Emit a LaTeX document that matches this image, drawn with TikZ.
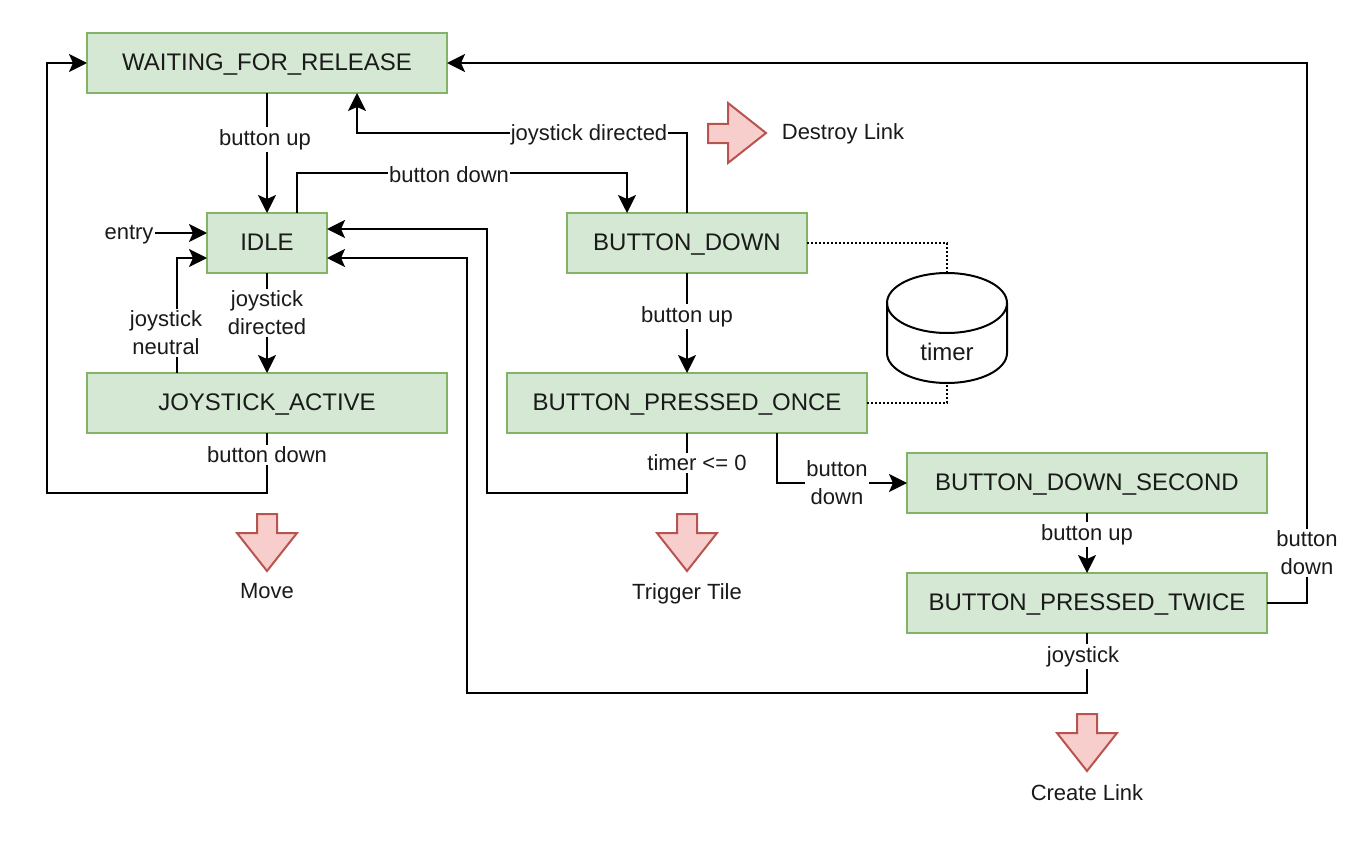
\documentclass[tikz,border=0pt]{standalone}
\usepackage{fontspec}
\setmainfont{Liberation Sans}
\usetikzlibrary{arrows.meta}
\definecolor{gfill}{HTML}{D5E8D4}
\definecolor{gline}{HTML}{82B366}
\definecolor{rfill}{HTML}{F8CECC}
\definecolor{rline}{HTML}{B85450}
\definecolor{ink}{HTML}{1A1A1A}
\tikzset{
  x=1pt,y=-1pt,
  state/.style={draw=gline,fill=gfill,line width=2pt,minimum height=60pt,inner sep=0pt,outer sep=0pt,text=ink,text height=17.5pt,text depth=2.5pt,font=\fontsize{24}{28}\selectfont},
  wide/.style={state,minimum width=360pt},
  mid/.style={state,minimum width=240pt},
  small/.style={state,minimum width=120pt},
  conn/.style={draw=black,line width=2pt,-{Stealth[length=18pt,width=18pt,inset=4pt]}},
  dots/.style={draw=black,line width=2pt,dash pattern=on 2pt off 2pt},
  lbl/.style={fill=white,inner xsep=1pt,inner ysep=2pt,text=ink,align=center,font=\fontsize{22}{28}\selectfont},
  plain/.style={text=ink,inner sep=0pt,align=center,font=\fontsize{22}{26}\selectfont},
  blockarrow/.style={draw=rline,fill=rfill,line width=2pt,line join=miter},
}
\begin{document}
\begin{tikzpicture}
\useasboundingbox (0,0) rectangle (1372,840);
\fill[white] (0,0) rectangle (1372,840);
% states
\node[wide]  (wfr)  at (267,63)  {WAITING\_FOR\_RELEASE};
\node[small] (idle) at (267,243) {IDLE};
\node[mid]   (bd)   at (687,243) {BUTTON\_DOWN};
\node[wide]  (ja)   at (267,403) {JOYSTICK\_ACTIVE};
\node[wide]  (bpo)  at (687,403) {BUTTON\_PRESSED\_ONCE};
\node[wide]  (bds)  at (1087,483) {BUTTON\_DOWN\_SECOND};
\node[wide]  (bpt)  at (1087,603) {BUTTON\_PRESSED\_TWICE};
% timer
\coordinate (ttop) at (947,273);
\coordinate (tbot) at (947,383);
\draw[black,line width=2pt,fill=white]
  (887,303) arc[start angle=180,end angle=0,x radius=60,y radius=-30]
  -- (1007,353) arc[start angle=0,end angle=-180,x radius=60,y radius=-30] -- cycle;
\draw[black,line width=2pt] (887,303) arc[start angle=180,end angle=360,x radius=60,y radius=-30];
\node[plain,font=\fontsize{24}{28}\selectfont] (timer) at (947,352) {timer};
% free ends
\node[plain] (entry) at (129,235) {entry};
% connectors
\draw[conn] (wfr.south) -- (idle.north);
\draw[conn] ([xshift=30pt]idle.north) |- (627,173) -- ([xshift=-60pt]bd.north);
\draw[conn] (bd.north) |- (357,133) -- ([xshift=90pt]wfr.south);
\draw[conn] (155,233) -- (155,233 -| idle.west);
\draw[conn] ([xshift=-90pt]ja.north) |- ([yshift=-15pt]idle.west);
\draw[conn] (idle.south) -- (ja.north);
\draw[conn] (ja.south) |- (47,493) |- (wfr.west);
\draw[conn] (bd.south) -- (bpo.north);
\draw[conn] (bpo.south) |- (487,493) |- ([yshift=14pt]idle.east);
\draw[conn] ([xshift=90pt]bpo.south) |- (bds.west);
\draw[conn] (bds.south) -- (bpt.north);
\draw[conn] (bpt.east) -| (1307,63) -- (wfr.east);
\draw[conn] (bpt.south) |- (467,693) |- ([yshift=-15pt]idle.east);
\draw[dots] (bd.east) -| (ttop);
\draw[dots] (bpo.east) -| (tbot);
% labels
\node[lbl] (l1)  at (265,139.5) {button up};
\node[lbl] (l2)  at (449,175) {button down};
\node[lbl] (l3)  at (589,134.5) {joystick directed};
\node[lbl] (l4)  at (166,333) {joystick\\neutral};
\node[lbl] (l5)  at (267,313) {joystick\\directed};
\node[lbl] (l6)  at (267,455) {button down};
\node[lbl] (l7)  at (687,316.5) {button up};
\node[lbl] (l8)  at (697,463) {timer <= 0};
\node[lbl] (l9)  at (837,483) {button\\down};
\node[lbl] (l10) at (1087,534.5) {button up};
\node[lbl] (l11) at (1307,553) {button\\down};
\node[lbl] (l12) at (1083,656.5) {joystick};
% block arrows
\draw[blockarrow] (708,124) -- (728,124) -- (728,103) -- (766,133) -- (728,163) -- (728,143) -- (708,143) -- cycle;
\draw[blockarrow] (257,514) -- (277,514) -- (277,533) -- (297,533) -- (267,571) -- (237,533) -- (257,533) -- cycle;
\draw[blockarrow] (677,514) -- (697,514) -- (697,533) -- (717,533) -- (687,571) -- (657,533) -- (677,533) -- cycle;
\draw[blockarrow] (1077,714) -- (1097,714) -- (1097,733) -- (1117,733) -- (1087,771) -- (1057,733) -- (1077,733) -- cycle;
\node[plain] (n1) at (843,134) {Destroy Link};
\node[plain] (n2) at (267,591) {Move};
\node[plain] (n3) at (687,594) {Trigger Tile};
\node[plain] (n4) at (1087,793) {Create Link};
\end{tikzpicture}
\end{document}
